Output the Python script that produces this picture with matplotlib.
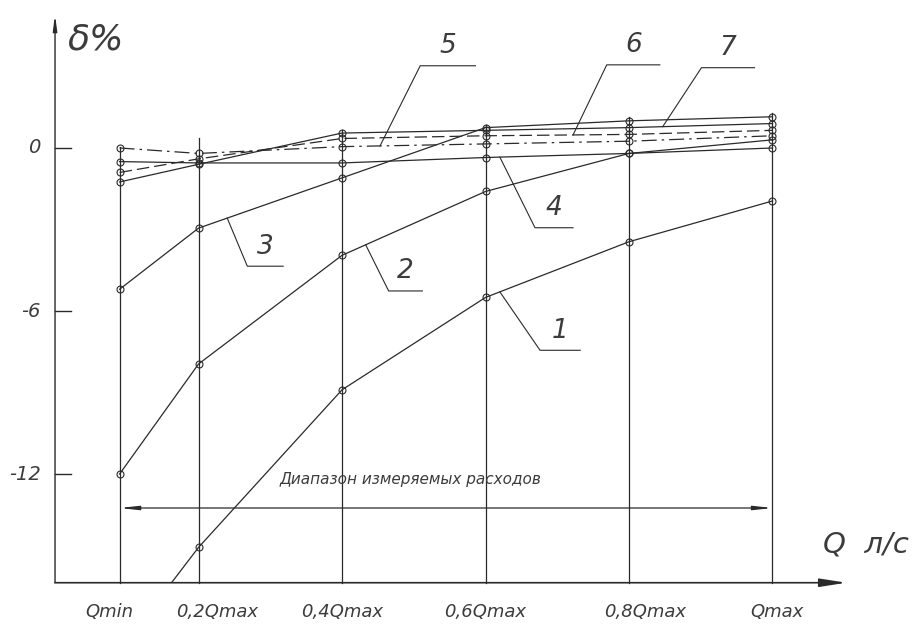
import matplotlib

matplotlib.use("Agg")
import matplotlib.pyplot as plt
import numpy as np
from matplotlib.patches import Rectangle

# flow points (fraction of Qmax) and tick labels
q_pos = [0.09, 0.2, 0.4, 0.6, 0.8, 1.0]
q_labels = ["Qmin", "0,2Qmax", "0,4Qmax", "0,6Qmax", "0,8Qmax", "Qmax"]

# error delta, % for curves 1..7
curve_1 = [-18.5, -14.7, -8.9, -5.5, -3.45, -1.95]
curve_2 = [-12.0, -7.95, -3.95, -1.6, -0.2, 0.3]
curve_3 = [-5.2, -2.95, -1.1, 0.75, 1.0, 1.15]
curve_4 = [-0.5, -0.55, -0.55, -0.35, -0.2, 0.0]
curve_5 = [0.0, -0.2, 0.05, 0.15, 0.25, 0.45]
curve_6 = [-0.9, -0.4, 0.35, 0.45, 0.5, 0.65]
curve_7 = [-1.25, -0.6, 0.55, 0.65, 0.75, 0.9]
curves = [curve_1, curve_2, curve_3, curve_4, curve_5, curve_6, curve_7]
curve_names = ["1", "2", "3", "4", "5", "6", "7"]

y_ticks = [0, -6, -12]
range_text = "Диапазон измеряемых расходов"

INK = "#2a2a2a"
TXT = "#3c3c3c"
Y_BOTTOM = -16.0
Y_TOP = 4.9
X_END = 1.103

styles = ["-", "-", "-", "-", (0, (12, 4, 2, 4)), (0, (10, 4)), "-"]
# leader: x on curve, offset to shelf start (dx, dy), shelf length
leaders = [
    (0.62, 0.056, -2.15, 0.056),
    (0.433, 0.032, -1.7, 0.047),
    (0.24, 0.028, -1.77, 0.05),
    (0.62, 0.049, -2.6, 0.053),
    (0.453, 0.056, 2.95, 0.077),
    (0.722, 0.047, 2.58, 0.074),
    (0.847, 0.054, 2.17, 0.074),
]
stem_extra = [0.05, 0.55, 0.1, 0.1, 0.15, 0.15]

fig = plt.figure(figsize=(9.21, 6.25), dpi=100)
ax = fig.add_axes([0, 0, 1, 1])
ax.set_xlim(-0.0767, 1.207)
ax.set_ylim(-17.556, 5.447)
ax.axis("off")

clip = Rectangle((0, Y_BOTTOM), 1.2, 25, transform=ax.transData)

# vertical stems at each flow point
for i, x in enumerate(q_pos):
    top = max(c[i] for c in curves) + stem_extra[i]
    ax.plot([x, x], [Y_BOTTOM, top], color=INK, lw=0.9)

for vals, ls in zip(curves, styles):
    (line,) = ax.plot(
        q_pos, vals, color=INK, lw=0.9, linestyle=ls,
        marker="o", markersize=5, markerfacecolor="none",
        markeredgecolor=INK, markeredgewidth=0.8,
    )
    line.set_clip_path(clip)

# axes with arrows
ax.annotate("", xy=(0, Y_TOP), xytext=(0, Y_BOTTOM),
            arrowprops=dict(arrowstyle="-|>,head_length=0.9,head_width=0.12",
                            color=INK, lw=1.0, shrinkA=0, shrinkB=0))
ax.annotate("", xy=(X_END, Y_BOTTOM), xytext=(0, Y_BOTTOM),
            arrowprops=dict(arrowstyle="-|>,head_length=1.6,head_width=0.25",
                            color=INK, lw=1.2, shrinkA=0, shrinkB=0))

for t in y_ticks:
    ax.plot([0, 0.022], [t, t], color=INK, lw=1.0)
    ax.text(-0.02, t, f"{t}", ha="right", va="center", fontsize=14,
            style="italic", color=TXT)

label_dx = [-0.014, 0.026, 0.0, 0.0, 0.022, 0.006]
for x, lab, dx in zip(q_pos, q_labels, label_dx):
    ax.text(x + dx, Y_BOTTOM - 1.06, lab, ha="center", va="center",
            fontsize=13, style="italic", color=TXT)

ax.text(0.018, 4.0, "δ%", ha="left", va="center", fontsize=26,
        style="italic", color=TXT)
ax.text(1.13, -14.6, "Q  л/с", ha="center", va="center", fontsize=21,
        style="italic", color=TXT)

# measured range
ax.annotate("", xy=(q_pos[0], -13.25), xytext=(q_pos[-1], -13.25),
            arrowprops=dict(arrowstyle="<|-|>,head_length=1.1,head_width=0.12",
                            color=INK, lw=0.9, shrinkA=0, shrinkB=0))
ax.text(0.496, -12.2, range_text, ha="center", va="center", fontsize=11,
        style="italic", color=TXT)

# numbered leaders
for vals, name, (lx, dx, dy, ln) in zip(curves, curve_names, leaders):
    ly = float(np.interp(lx, q_pos, vals))
    sx, sy = lx + dx, ly + dy
    ax.plot([lx, sx, sx + ln], [ly, sy, sy], color=INK, lw=0.8)
    ax.text(sx + ln / 2, sy + 0.72, name, ha="center", va="center",
            fontsize=19, style="italic", color=TXT)

fig.savefig("out.png", dpi=100, facecolor="white")
